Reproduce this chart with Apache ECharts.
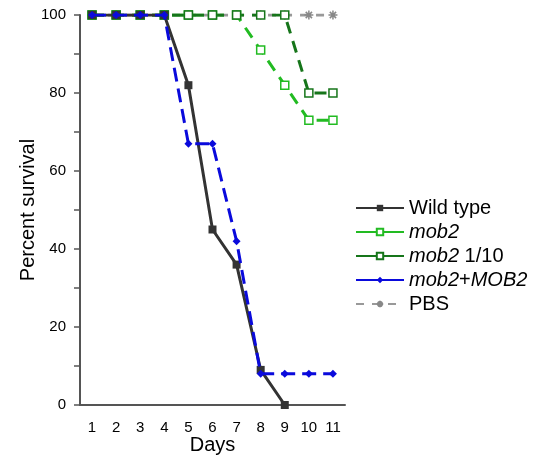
<!DOCTYPE html>
<html>
<head>
<meta charset="utf-8">
<script src="https://cdn.jsdelivr.net/npm/echarts@6/dist/echarts.min.js"></script>
<style>
html, body { margin: 0; padding: 0; background: #fff; }
#chart { width: 540px; height: 457px; }
</style>
</head>
<body>
<div id="chart"></div>
<script>
var days = ['1', '2', '3', '4', '5', '6', '7', '8', '9', '10', '11'];
var wildType = [100, 100, 100, 100, 82, 45, 36, 9, 0];
var mob2 = [100, 100, 100, 100, 100, 100, 100, 91, 82, 73, 73];
var mob2Tenth = [100, 100, 100, 100, 100, 100, 100, 100, 100, 80, 80];
var mob2MOB2 = [100, 100, 100, 100, 67, 67, 42, 8, 8, 8, 8];
var pbs = [100, 100, 100, 100, 100, 100, 100, 100, 100, 100, 100];

var font = 'Liberation Sans, Arial, sans-serif';
var starPath = 'path://M0,5 L10,5 M1.5,1.5 L8.5,8.5 M1.5,8.5 L8.5,1.5 M5,0 L5,10';

var chart = echarts.init(document.getElementById('chart'));
var option = {
    animation: false,
    grid: { left: 80, right: 195, top: 15, bottom: 52, outerBoundsMode: 'none' },
    legend: {
        orient: 'vertical',
        left: 350,
        top: 193,
        itemWidth: 48,
        itemHeight: 8,
        itemGap: 4,
        textStyle: {
            fontFamily: font, fontSize: 20, color: '#000',
            rich: { i: { fontFamily: font, fontSize: 20, fontStyle: 'italic', color: '#000' } }
        },
        formatter: function (name) {
            if (name === 'mob2') return '{i|mob2}';
            if (name === 'mob2 1/10') return '{i|mob2} 1/10';
            if (name === 'mob2+MOB2') return '{i|mob2}+{i|MOB2}';
            return name;
        },
        data: [
            { name: 'Wild type' },
            { name: 'mob2', lineStyle: { type: 'solid' } },
            { name: 'mob2 1/10', lineStyle: { type: 'solid' } },
            { name: 'mob2+MOB2', lineStyle: { type: 'solid' } },
            { name: 'PBS' }
        ]
    },
    xAxis: {
        type: 'category',
        data: days,
        boundaryGap: true,
        name: 'Days',
        nameLocation: 'middle',
        nameGap: 30,
        nameMoveOverlap: false,
        nameTextStyle: { fontFamily: font, fontSize: 20, color: '#000' },
        axisLine: { lineStyle: { color: '#555', width: 2 } },
        axisTick: { alignWithLabel: true, length: 5, lineStyle: { color: '#555', width: 1.5 } },
        axisLabel: { fontFamily: font, fontSize: 15, color: '#000', margin: 15 }
    },
    yAxis: {
        type: 'value',
        min: 0,
        max: 100,
        interval: 10,
        name: 'Percent survival',
        nameLocation: 'middle',
        nameGap: 42,
        nameMoveOverlap: false,
        nameTextStyle: { fontFamily: font, fontSize: 20, color: '#000' },
        splitLine: { show: false },
        axisLine: { show: true, lineStyle: { color: '#555', width: 2 } },
        axisTick: { show: true, length: 6, lineStyle: { color: '#555', width: 1.5 } },
        axisLabel: {
            fontFamily: font, fontSize: 15, color: '#000', margin: 14,
            formatter: function (v) { return v % 20 === 0 ? v : ''; }
        }
    },
    series: [
        {
            name: 'Wild type', type: 'line', data: wildType, z: 4,
            symbol: 'rect', symbolSize: 8,
            itemStyle: { color: '#333' },
            lineStyle: { color: '#333', width: 3 }
        },
        {
            name: 'mob2', type: 'line', data: mob2, z: 3,
            symbol: 'rect', symbolSize: 8,
            itemStyle: { color: '#fff', borderColor: '#22bb22', borderWidth: 1.5 },
            lineStyle: { color: '#22bb22', width: 3, type: [12, 8] }
        },
        {
            name: 'mob2 1/10', type: 'line', data: mob2Tenth, z: 3,
            symbol: 'rect', symbolSize: 8,
            itemStyle: { color: '#fff', borderColor: '#16751a', borderWidth: 1.5 },
            lineStyle: { color: '#16751a', width: 3, type: [12, 8] }
        },
        {
            name: 'mob2+MOB2', type: 'line', data: mob2MOB2, z: 5,
            symbol: 'diamond', symbolSize: 8,
            itemStyle: { color: '#0a0adc' },
            lineStyle: { color: '#0a0adc', width: 3, type: [14, 7] }
        },
        {
            name: 'PBS', type: 'line', data: pbs, z: 2,
            symbol: starPath, symbolSize: 9,
            itemStyle: { color: '#fff', borderColor: '#888', borderWidth: 1.5 },
            lineStyle: { color: '#999', width: 3, type: [8, 8] }
        }
    ]
};
chart.setOption(option);
</script>
</body>
</html>
